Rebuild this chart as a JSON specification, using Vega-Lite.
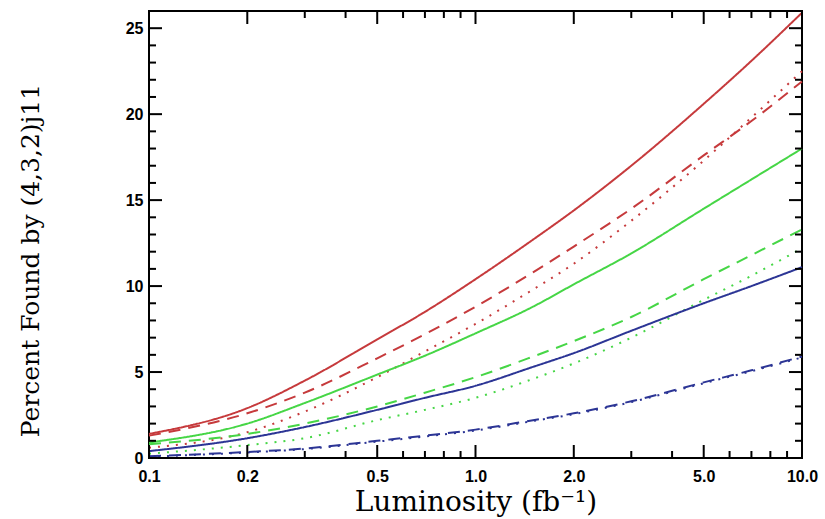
{
  "$schema": "https://vega.github.io/schema/vega-lite/v6.json",
  "width": 653,
  "height": 447,
  "autosize": "none",
  "padding": {"left": 149, "top": 11, "right": 23, "bottom": 61},
  "background": "white",
  "config": {"view": {"stroke": "black", "strokeWidth": 2}},
  "datasets": {
    "curves": [
      {"L":0.1,"v":1.4,"c":"red","s":"solid"},{"L":0.2,"v":2.9,"c":"red","s":"solid"},{"L":0.3,"v":4.5,"c":"red","s":"solid"},{"L":0.5,"v":6.9,"c":"red","s":"solid"},{"L":0.7,"v":8.5,"c":"red","s":"solid"},{"L":1,"v":10.4,"c":"red","s":"solid"},{"L":1.5,"v":12.7,"c":"red","s":"solid"},{"L":2,"v":14.4,"c":"red","s":"solid"},{"L":3,"v":17.0,"c":"red","s":"solid"},{"L":5,"v":20.6,"c":"red","s":"solid"},{"L":7,"v":23.1,"c":"red","s":"solid"},{"L":10,"v":25.9,"c":"red","s":"solid"},
      {"L":0.1,"v":1.3,"c":"red","s":"dashed"},{"L":0.2,"v":2.6,"c":"red","s":"dashed"},{"L":0.3,"v":3.8,"c":"red","s":"dashed"},{"L":0.5,"v":5.8,"c":"red","s":"dashed"},{"L":0.7,"v":7.2,"c":"red","s":"dashed"},{"L":1,"v":8.8,"c":"red","s":"dashed"},{"L":1.5,"v":10.8,"c":"red","s":"dashed"},{"L":2,"v":12.3,"c":"red","s":"dashed"},{"L":3,"v":14.5,"c":"red","s":"dashed"},{"L":5,"v":17.6,"c":"red","s":"dashed"},{"L":7,"v":19.6,"c":"red","s":"dashed"},{"L":10,"v":21.9,"c":"red","s":"dashed"},
      {"L":0.1,"v":0.6,"c":"red","s":"dotted"},{"L":0.2,"v":1.5,"c":"red","s":"dotted"},{"L":0.3,"v":2.7,"c":"red","s":"dotted"},{"L":0.5,"v":4.7,"c":"red","s":"dotted"},{"L":0.7,"v":6.2,"c":"red","s":"dotted"},{"L":1,"v":7.8,"c":"red","s":"dotted"},{"L":1.5,"v":9.8,"c":"red","s":"dotted"},{"L":2,"v":11.3,"c":"red","s":"dotted"},{"L":3,"v":13.8,"c":"red","s":"dotted"},{"L":5,"v":17.3,"c":"red","s":"dotted"},{"L":7,"v":19.8,"c":"red","s":"dotted"},{"L":10,"v":22.5,"c":"red","s":"dotted"},
      {"L":0.1,"v":0.9,"c":"green","s":"solid"},{"L":0.2,"v":2.0,"c":"green","s":"solid"},{"L":0.3,"v":3.2,"c":"green","s":"solid"},{"L":0.5,"v":4.85,"c":"green","s":"solid"},{"L":0.7,"v":5.95,"c":"green","s":"solid"},{"L":1,"v":7.25,"c":"green","s":"solid"},{"L":1.5,"v":8.8,"c":"green","s":"solid"},{"L":2,"v":10.1,"c":"green","s":"solid"},{"L":3,"v":11.9,"c":"green","s":"solid"},{"L":5,"v":14.5,"c":"green","s":"solid"},{"L":7,"v":16.2,"c":"green","s":"solid"},{"L":10,"v":18.0,"c":"green","s":"solid"},
      {"L":0.1,"v":0.8,"c":"green","s":"dashed"},{"L":0.2,"v":1.4,"c":"green","s":"dashed"},{"L":0.3,"v":2.0,"c":"green","s":"dashed"},{"L":0.5,"v":3.0,"c":"green","s":"dashed"},{"L":0.7,"v":3.8,"c":"green","s":"dashed"},{"L":1,"v":4.7,"c":"green","s":"dashed"},{"L":1.5,"v":5.9,"c":"green","s":"dashed"},{"L":2,"v":6.8,"c":"green","s":"dashed"},{"L":3,"v":8.2,"c":"green","s":"dashed"},{"L":5,"v":10.4,"c":"green","s":"dashed"},{"L":7,"v":11.8,"c":"green","s":"dashed"},{"L":10,"v":13.3,"c":"green","s":"dashed"},
      {"L":0.1,"v":0.25,"c":"green","s":"dotted"},{"L":0.2,"v":0.75,"c":"green","s":"dotted"},{"L":0.3,"v":1.15,"c":"green","s":"dotted"},{"L":0.5,"v":2.2,"c":"green","s":"dotted"},{"L":0.7,"v":2.8,"c":"green","s":"dotted"},{"L":1,"v":3.5,"c":"green","s":"dotted"},{"L":1.5,"v":4.6,"c":"green","s":"dotted"},{"L":2,"v":5.5,"c":"green","s":"dotted"},{"L":3,"v":7.0,"c":"green","s":"dotted"},{"L":5,"v":9.2,"c":"green","s":"dotted"},{"L":7,"v":10.6,"c":"green","s":"dotted"},{"L":10,"v":12.2,"c":"green","s":"dotted"},
      {"L":0.1,"v":0.4,"c":"blue","s":"solid"},{"L":0.2,"v":1.15,"c":"blue","s":"solid"},{"L":0.3,"v":1.8,"c":"blue","s":"solid"},{"L":0.5,"v":2.8,"c":"blue","s":"solid"},{"L":0.7,"v":3.5,"c":"blue","s":"solid"},{"L":1,"v":4.2,"c":"blue","s":"solid"},{"L":1.5,"v":5.3,"c":"blue","s":"solid"},{"L":2,"v":6.1,"c":"blue","s":"solid"},{"L":3,"v":7.4,"c":"blue","s":"solid"},{"L":5,"v":9.0,"c":"blue","s":"solid"},{"L":7,"v":10.0,"c":"blue","s":"solid"},{"L":10,"v":11.1,"c":"blue","s":"solid"},
      {"L":0.1,"v":0.1,"c":"blue","s":"dashed"},{"L":0.2,"v":0.35,"c":"blue","s":"dashed"},{"L":0.3,"v":0.55,"c":"blue","s":"dashed"},{"L":0.5,"v":1.0,"c":"blue","s":"dashed"},{"L":0.7,"v":1.3,"c":"blue","s":"dashed"},{"L":1,"v":1.65,"c":"blue","s":"dashed"},{"L":1.5,"v":2.2,"c":"blue","s":"dashed"},{"L":2,"v":2.6,"c":"blue","s":"dashed"},{"L":3,"v":3.3,"c":"blue","s":"dashed"},{"L":5,"v":4.4,"c":"blue","s":"dashed"},{"L":7,"v":5.1,"c":"blue","s":"dashed"},{"L":10,"v":5.9,"c":"blue","s":"dashed"},
      {"L":0.1,"v":0.08,"c":"blue","s":"dotted"},{"L":0.2,"v":0.32,"c":"blue","s":"dotted"},{"L":0.3,"v":0.52,"c":"blue","s":"dotted"},{"L":0.5,"v":0.95,"c":"blue","s":"dotted"},{"L":0.7,"v":1.25,"c":"blue","s":"dotted"},{"L":1,"v":1.6,"c":"blue","s":"dotted"},{"L":1.5,"v":2.15,"c":"blue","s":"dotted"},{"L":2,"v":2.55,"c":"blue","s":"dotted"},{"L":3,"v":3.25,"c":"blue","s":"dotted"},{"L":5,"v":4.35,"c":"blue","s":"dotted"},{"L":7,"v":5.05,"c":"blue","s":"dotted"},{"L":10,"v":5.85,"c":"blue","s":"dotted"}
    ],
    "xmajor": [{"L":0.1},{"L":0.2},{"L":0.5},{"L":1},{"L":2},{"L":5},{"L":10}],
    "xminor": [{"L":0.3},{"L":0.4},{"L":0.6},{"L":0.7},{"L":0.8},{"L":0.9},{"L":3},{"L":4},{"L":6},{"L":7},{"L":8},{"L":9}],
    "ymajor": [{"v":0},{"v":5},{"v":10},{"v":15},{"v":20},{"v":25}],
    "yminor": [{"v":1},{"v":2},{"v":3},{"v":4},{"v":6},{"v":7},{"v":8},{"v":9},{"v":11},{"v":12},{"v":13},{"v":14},{"v":16},{"v":17},{"v":18},{"v":19},{"v":21},{"v":22},{"v":23},{"v":24},{"v":26}]
  },
  "layer": [
    {
      "data": {"name": "curves"},
      "mark": {"type": "line", "strokeWidth": 2, "interpolate": "monotone"},
      "encoding": {
        "x": {"field": "L", "type": "quantitative",
          "scale": {"type": "log", "domain": [0.1, 10], "nice": false},
          "axis": {"orient": "bottom", "values": [0.1, 0.2, 0.5, 1, 2, 5, 10], "format": ".1f",
            "title": "Luminosity (fb⁻¹)", "titleFont": "DejaVu Serif", "titleFontSize": 28, "titleFontWeight": "normal", "titleColor": "black",
            "titleY": 52, "titleBaseline": "alphabetic",
            "labelFont": "Liberation Sans", "labelFontWeight": "bold", "labelFontSize": 16, "labelColor": "black", "labelPadding": 10,
            "ticks": false, "domain": false, "grid": false, "labelFlush": false, "labelOverlap": false}},
        "y": {"field": "v", "type": "quantitative",
          "scale": {"domain": [0, 26], "nice": false, "zero": true},
          "axis": {"orient": "left", "values": [0, 5, 10, 15, 20, 25],
            "title": "Percent Found by (4,3,2)j11", "titleFont": "DejaVu Serif", "titleFontSize": 25, "titleFontWeight": "normal", "titleColor": "black",
            "titleX": -119, "titleY": 249, "titleAngle": -90, "titleAlign": "center", "titleBaseline": "middle",
            "labelFont": "Liberation Sans", "labelFontWeight": "bold", "labelFontSize": 16, "labelColor": "black", "labelPadding": 6,
            "ticks": false, "domain": false, "grid": false, "labelFlush": false, "labelOverlap": false}},
        "color": {"field": "c", "type": "nominal", "scale": {"domain": ["red", "green", "blue"], "range": ["#c63a3c", "#46d646", "#2c3595"]}, "legend": null},
        "strokeDash": {"field": "s", "type": "nominal", "scale": {"domain": ["solid", "dashed", "dotted"], "range": [[1, 0], [12, 8], [2, 7]]}, "legend": null}
      }
    },
    {
      "data": {"name": "xmajor"},
      "mark": {"type": "point", "shape": "M0,0L0,-1", "size": 676, "filled": false, "stroke": "black", "strokeWidth": 2, "opacity": 1},
      "encoding": {"x": {"field": "L", "type": "quantitative"}, "y": {"datum": 0}}
    },
    {
      "data": {"name": "xmajor"},
      "mark": {"type": "point", "shape": "M0,0L0,1", "size": 676, "filled": false, "stroke": "black", "strokeWidth": 2, "opacity": 1},
      "encoding": {"x": {"field": "L", "type": "quantitative"}, "y": {"datum": 26}}
    },
    {
      "data": {"name": "xminor"},
      "mark": {"type": "point", "shape": "M0,0L0,-1", "size": 196, "filled": false, "stroke": "black", "strokeWidth": 2, "opacity": 1},
      "encoding": {"x": {"field": "L", "type": "quantitative"}, "y": {"datum": 0}}
    },
    {
      "data": {"name": "xminor"},
      "mark": {"type": "point", "shape": "M0,0L0,1", "size": 196, "filled": false, "stroke": "black", "strokeWidth": 2, "opacity": 1},
      "encoding": {"x": {"field": "L", "type": "quantitative"}, "y": {"datum": 26}}
    },
    {
      "data": {"name": "ymajor"},
      "mark": {"type": "point", "shape": "M0,0L1,0", "size": 676, "filled": false, "stroke": "black", "strokeWidth": 2, "opacity": 1},
      "encoding": {"y": {"field": "v", "type": "quantitative"}, "x": {"datum": 0.1}}
    },
    {
      "data": {"name": "ymajor"},
      "mark": {"type": "point", "shape": "M0,0L-1,0", "size": 676, "filled": false, "stroke": "black", "strokeWidth": 2, "opacity": 1},
      "encoding": {"y": {"field": "v", "type": "quantitative"}, "x": {"datum": 10}}
    },
    {
      "data": {"name": "yminor"},
      "mark": {"type": "point", "shape": "M0,0L1,0", "size": 196, "filled": false, "stroke": "black", "strokeWidth": 2, "opacity": 1},
      "encoding": {"y": {"field": "v", "type": "quantitative"}, "x": {"datum": 0.1}}
    },
    {
      "data": {"name": "yminor"},
      "mark": {"type": "point", "shape": "M0,0L-1,0", "size": 196, "filled": false, "stroke": "black", "strokeWidth": 2, "opacity": 1},
      "encoding": {"y": {"field": "v", "type": "quantitative"}, "x": {"datum": 10}}
    }
  ]
}
